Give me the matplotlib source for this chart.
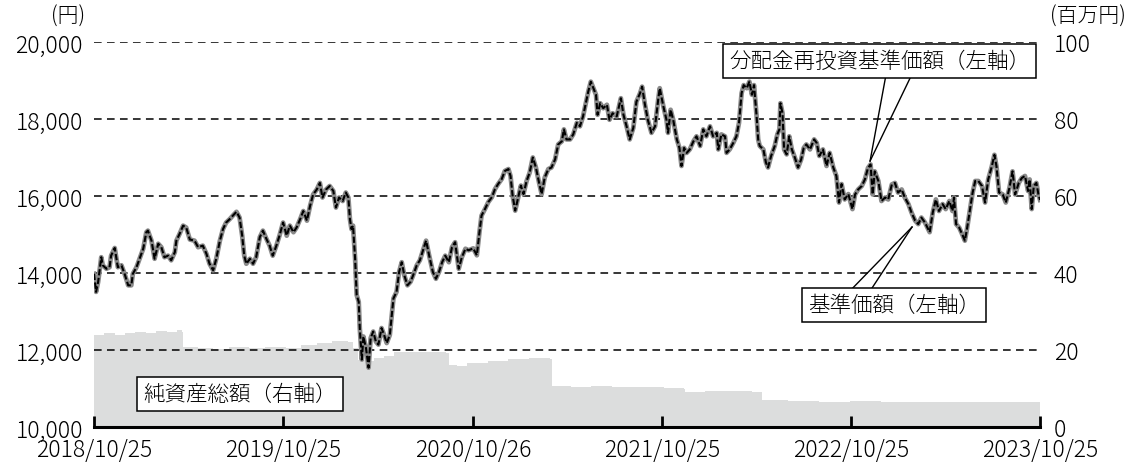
import numpy as np
import matplotlib
matplotlib.use("Agg")
import matplotlib.pyplot as plt

plt.rcParams['font.family'] = ['Noto Sans CJK JP', 'DejaVu Sans']
plt.rcParams['font.weight'] = 'light'

START = np.datetime64('2018-10-25')

# price observations: days since 2018-10-25, value (円)
price_days = [
    0, 4, 8, 14, 17, 24, 30, 33, 40, 46, 53, 59, 66, 72, 75, 82, 88, 95, 101, 104,
    111, 117, 124, 130, 136, 143, 149, 156, 159, 165, 172, 178, 185, 194, 201, 210, 217, 223, 230, 236,
    243, 249, 255, 262, 268, 275, 281, 286, 290, 294, 301, 307, 313, 320, 326, 333, 339, 345, 352, 358,
    365, 372, 378, 385, 391, 398, 404, 411, 417, 423, 430, 436, 441, 448, 455, 462, 467, 473, 480, 486,
    491, 494, 497, 500, 504, 507, 511, 513, 517, 520, 525, 530, 534, 539, 544, 549, 555, 560, 565, 571,
    578, 584, 589, 594, 599, 605, 611, 616, 623, 629, 636, 641, 647, 654, 660, 666, 672, 678, 685, 691,
    697, 704, 710, 717, 723, 732, 739, 744, 748, 755, 761, 768, 774, 780, 787, 793, 800, 804, 808, 813,
    819, 824, 829, 835, 841, 847, 853, 859, 864, 870, 877, 883, 890, 896, 903, 907, 912, 919, 925, 932,
    938, 944, 950, 954, 959, 964, 969, 972, 977, 983, 990, 995, 1001, 1009, 1017, 1022, 1028, 1034, 1041, 1047,
    1054, 1058, 1063, 1069, 1076, 1083, 1089, 1092, 1099, 1105, 1108, 1113, 1118, 1125, 1130, 1134, 1139, 1144, 1150, 1157,
    1163, 1170, 1176, 1182, 1189, 1195, 1202, 1205, 1211, 1218, 1221, 1227, 1234, 1240, 1245, 1250, 1254, 1260, 1265, 1270,
    1274, 1279, 1282, 1285, 1292, 1297, 1301, 1307, 1314, 1319, 1323, 1325, 1329, 1332, 1337, 1342, 1347, 1353, 1359, 1365,
    1370, 1375, 1382, 1390, 1395, 1400, 1407, 1414, 1420, 1427, 1433, 1438, 1443, 1449, 1456, 1464, 1469, 1475, 1482, 1488,
    1494, 1499, 1503, 1507, 1514, 1520, 1527, 1533, 1540, 1546, 1552, 1559, 1565, 1572, 1578, 1585, 1591, 1597, 1604, 1610,
    1613, 1619, 1625, 1631, 1638, 1644, 1651, 1657, 1660, 1664, 1670, 1677, 1681, 1685, 1691, 1696, 1701, 1707, 1714, 1720,
    1726, 1733, 1738, 1742, 1747, 1754, 1760, 1767, 1773, 1778, 1785, 1791, 1797, 1803, 1806, 1810, 1814, 1819, 1823, 1826,
]
price_values = [
    13980, 13510, 13770, 14410, 14200, 14110, 14150, 14450, 14650, 14150, 14200, 13980, 13680, 13680, 13980, 14150, 14370, 14630, 15060, 15100,
    14840, 14370, 14760, 14670, 14410, 14450, 14330, 14540, 14840, 15010, 15230, 15180, 14870, 14840, 14670, 14710, 14500, 14240, 14070, 14370,
    14840, 15140, 15310, 15400, 15490, 15590, 15440, 14970, 14450, 14240, 14370, 14240, 14410, 14930, 15100, 14880, 14710, 14450, 14710, 14970,
    15310, 14970, 15230, 15060, 15180, 15400, 15610, 15360, 15740, 16040, 16170, 16340, 15960, 16170, 16260, 16130, 15700, 15960, 15870, 16090,
    15960, 15400, 15140, 15230, 14370, 13430, 13250, 12570, 11750, 12350, 12050, 11540, 12310, 12480, 12220, 12140, 12570, 12390, 12180, 12390,
    13340, 13510, 14030, 14280, 13940, 13680, 13770, 13940, 14200, 14330, 14630, 14840, 14450, 14030, 13850, 14030, 14280, 14450, 14280, 14670,
    14800, 14110, 14410, 14630, 14590, 14640, 14460, 15060, 15490, 15670, 15840, 15970, 16180, 16310, 16440, 16650, 16700, 16520, 16010, 15620,
    15970, 16270, 16050, 16390, 16610, 17000, 16740, 16350, 16050, 16480, 16700, 16740, 16950, 17340, 17420, 17730, 17470, 17470, 17600, 17900,
    17810, 18070, 18450, 18710, 18970, 18800, 18630, 18110, 18410, 18280, 18370, 17980, 18150, 18070, 18540, 18110, 17810, 17470, 17770, 18450,
    18670, 18840, 18410, 17980, 17640, 17810, 18500, 18800, 18330, 17980, 17640, 18240, 17980, 17470, 17250, 16780, 17250, 17120, 17210, 17420,
    17550, 17300, 17730, 17550, 17810, 17550, 17640, 17210, 17600, 17550, 17120, 17210, 17380, 17550, 17900, 18670, 18880, 18800, 18970, 18630,
    18880, 18070, 17470, 17300, 17210, 16870, 16740, 17040, 17300, 17600, 17730, 18410, 18150, 17210, 17080, 17550, 17210, 16990, 16740, 16950,
    17250, 17340, 17210, 17470, 17380, 17040, 17210, 16780, 17120, 16740, 16520, 15830, 16310, 15910, 16050, 15660, 16040, 16170, 16260, 16430,
    16730, 16820, 16040, 16640, 16390, 15870, 15960, 15910, 16300, 16340, 16090, 16170, 15960, 15790, 15570, 15360, 15270, 15440, 15310, 15140,
    15060, 15570, 15910, 15610, 15790, 15660, 15870, 15610, 15960, 15270, 15180, 14970, 14840, 15140, 15660, 16090, 16390, 16390, 16260, 15830,
    16430, 16770, 17070, 16770, 16090, 16040, 15830, 16210, 16640, 16040, 16340, 16470, 16520, 16130, 16430, 15660, 16260, 16340, 16040, 15900,
]

# net assets (百万円)
nav_days = [0, 20, 40, 60, 80, 100, 120, 140, 160, 170, 172, 200, 230, 260, 300, 330, 370, 400, 430, 460,
            490, 500, 510, 525, 540, 560, 580, 600, 640, 680, 686, 700, 720, 760, 800, 840, 880, 885, 920, 960,
            1000, 1060, 1100, 1138, 1141, 1180, 1220, 1270, 1287, 1290, 1340, 1400, 1460, 1520, 1580, 1640, 1700, 1760, 1826]
nav_values = [24.0, 24.3, 23.8, 24.5, 24.8, 24.5, 25.0, 24.6, 25.2, 24.8, 20.8, 20.5, 20.2, 20.8, 20.4, 20.9, 20.6, 21.2, 21.8, 22.3,
              22.0, 20.5, 17.5, 17.2, 17.8, 18.5, 19.4, 19.6, 19.5, 19.3, 16.0, 15.8, 16.6, 17.2, 17.6, 17.8, 17.6, 10.6, 10.3, 10.7,
              10.5, 10.4, 10.2, 10.0, 9.2, 9.4, 9.3, 9.2, 9.1, 7.0, 6.8, 6.6, 6.7, 6.5, 6.4, 6.5, 6.5, 6.6, 6.5]

tick_labels = ['2018/10/25', '2019/10/25', '2020/10/26', '2021/10/25', '2022/10/25', '2023/10/25']
left_ticks = [10000, 12000, 14000, 16000, 18000, 20000]
right_ticks = [0, 20, 40, 60, 80, 100]

price_dates = START + np.array(price_days).astype('timedelta64[D]')
nav_dates = START + np.array(nav_days).astype('timedelta64[D]')
tick_dates = [np.datetime64(s.replace('/', '-')) for s in tick_labels]

fig = plt.figure(figsize=(11.29, 4.64), dpi=100)
ax_na = fig.add_axes([94/1129, 1-428/464, (1040-94)/1129, (428-43)/464])
ax = ax_na.twinx()

FS = 16.5
BFS = 15.5

# net assets area
ax_na.fill_between(nav_dates, 0, nav_values, step='post', color='#dcdddd', lw=0)
ax_na.set_ylim(0, 100)
ax_na.yaxis.tick_right()
ax_na.yaxis.set_label_position('right')
ax_na.set_yticks(right_ticks)
ax_na.set_yticklabels([str(v) for v in right_ticks], fontsize=FS)
ax_na.tick_params(axis='y', length=0, pad=10)

ax.yaxis.tick_left()
ax.set_ylim(10000, 20000)
ax.set_yticks(left_ticks)
ax.set_yticklabels([f'{v:,}' for v in left_ticks], fontsize=FS)
ax.tick_params(axis='y', length=0, pad=8)
for v in left_ticks[1:]:
    ax.axhline(v, color='black', lw=1.1, ls=(0, (5, 3.5)), zorder=1)

# lines
ax.plot(price_dates, price_values, color='#8a8a8a', lw=3.4, zorder=3, solid_joinstyle='round')
ax.plot(price_dates, price_values, color='black', lw=1.5, ls=(0, (3, 1.2)), zorder=4)

for a in (ax, ax_na):
    a.set_xlim(START, np.datetime64('2023-10-25'))
    for s in ('top', 'left', 'right'):
        a.spines[s].set_visible(False)
ax.spines['bottom'].set_visible(False)
ax_na.spines['bottom'].set_linewidth(2.2)
ax_na.set_xticks(tick_dates)
ax_na.set_xticklabels(tick_labels, fontsize=FS)
ax_na.tick_params(axis='x', direction='in', length=8, width=2, pad=7)
ax.tick_params(axis='x', bottom=False, labelbottom=False)
ax.patch.set_visible(False)

# unit labels
fig.text(85/1129, 1-17/464, '(円)', fontsize=FS-1.5, ha='right', va='center')
fig.text(1050/1129, 1-17/464, '(百万円)', fontsize=FS-1.5, ha='left', va='center')

def d(n):
    return START + np.timedelta64(int(n), 'D')

bbox = dict(boxstyle='square,pad=0.28', fc='white', ec='black', lw=1.1)
ax.text(d(1517), 19506, '分配金再投資基準価額（左軸）', fontsize=BFS, ha='center', va='center', bbox=bbox, zorder=6)
ax.text(d(1544), 13169, '基準価額（左軸）', fontsize=BFS, ha='center', va='center', bbox=bbox, zorder=6)
ax.text(d(282), 10857, '純資産総額（右軸）', fontsize=BFS, ha='center', va='center', bbox=bbox, zorder=6)

for x0 in (1529, 1579):
    ax.plot([d(x0), d(1498)], [19168, 16908], color='black', lw=1.0, zorder=5)
for x0 in (1459, 1498):
    ax.plot([d(x0), d(1579)], [13532, 15194], color='black', lw=1.0, zorder=5)

fig.savefig('out.png', dpi=100)
